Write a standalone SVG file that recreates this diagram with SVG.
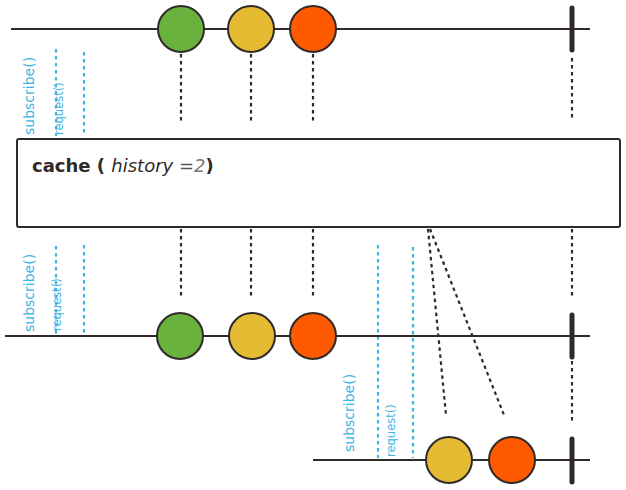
<svg xmlns="http://www.w3.org/2000/svg" width="626" height="490" viewBox="0 0 626 490">
<style>
.line{stroke:#2f2a28;stroke-width:2.2;fill:none}
.term{stroke:#2f2a28;stroke-width:5;stroke-linecap:round}
.dot{stroke:#2f2a28;stroke-width:2.2;stroke-dasharray:3.5 3.5;fill:none}
.blue{stroke:#3db5e3;stroke-width:2.2;stroke-dasharray:3.5 3.5;fill:none}
.m{stroke:#2f2a28;stroke-width:2}
.g{fill:#6ab23e}.y{fill:#e5bb33}.o{fill:#ff5a00}
.lbl{font-family:"DejaVu Sans",sans-serif;fill:#3db5e3}
.s{font-size:14px}.r{font-size:11.5px}
</style>
<rect width="626" height="490" fill="#fff"/>
<g id="connectors">
<line class="dot" x1="181" y1="54" x2="181" y2="122"/>
<line class="dot" x1="251" y1="54" x2="251" y2="122"/>
<line class="dot" x1="313" y1="54" x2="313" y2="122"/>
<line class="dot" x1="572" y1="58" x2="572" y2="121"/>
<line class="dot" x1="181" y1="229" x2="181" y2="296"/>
<line class="dot" x1="251" y1="229" x2="251" y2="296"/>
<line class="dot" x1="313" y1="229" x2="313" y2="296"/>
<line class="dot" x1="572" y1="229" x2="572" y2="296"/>
<line class="dot" x1="572" y1="361" x2="572" y2="421"/>
<line class="dot" x1="428" y1="229" x2="446" y2="415"/>
<line class="dot" x1="430" y1="229" x2="504" y2="415"/>
<line class="blue" x1="56" y1="49" x2="56" y2="136"/>
<line class="blue" x1="84" y1="52" x2="84" y2="136"/>
<line class="blue" x1="56" y1="246" x2="56" y2="334"/>
<line class="blue" x1="84" y1="245" x2="84" y2="334"/>
<line class="blue" x1="378" y1="245" x2="378" y2="458"/>
<line class="blue" x1="413" y1="247" x2="413" y2="458"/>
</g>
<g id="timeline-top">
<line class="line" x1="11" y1="29" x2="590" y2="29"/>
<line class="term" x1="572" y1="8" x2="572" y2="50"/>
</g>
<g id="timeline-mid">
<line class="line" x1="5" y1="336" x2="590" y2="336"/>
<line class="term" x1="572" y1="315" x2="572" y2="357"/>
</g>
<g id="timeline-bottom">
<line class="line" x1="313" y1="460" x2="590" y2="460"/>
<line class="term" x1="572" y1="439" x2="572" y2="482"/>
</g>
<g id="top-green"><circle class="g m" cx="181" cy="29" r="23"/></g>
<g id="top-yellow"><circle class="y m" cx="251" cy="29" r="23"/></g>
<g id="top-orange"><circle class="o m" cx="313" cy="29" r="23"/></g>
<g id="mid-green"><circle class="g m" cx="180" cy="336" r="23"/></g>
<g id="mid-yellow"><circle class="y m" cx="252" cy="336" r="23"/></g>
<g id="mid-orange"><circle class="o m" cx="313" cy="336" r="23"/></g>
<g id="bot-yellow"><circle class="y m" cx="449" cy="460" r="23"/></g>
<g id="bot-orange"><circle class="o m" cx="512" cy="460" r="23"/></g>
<g id="cache">
<rect x="17" y="139" width="603" height="88" rx="2" fill="#fff" stroke="#2f2a28" stroke-width="2"/>
<text x="32" y="172" font-family="'DejaVu Sans',sans-serif" font-size="18" fill="#2f2a28"><tspan font-weight="bold">cache ( </tspan><tspan font-style="italic">history </tspan><tspan font-style="italic" fill="#555">=</tspan><tspan font-style="italic" fill="#777">2</tspan><tspan font-weight="bold">)</tspan></text>
</g>
<g id="labels">
<text class="lbl s" transform="translate(34,135) rotate(-90)">subscribe()</text>
<text class="lbl r" transform="translate(63,135) rotate(-90)">request()</text>
<text class="lbl s" transform="translate(34,332) rotate(-90)">subscribe()</text>
<text class="lbl r" transform="translate(61,331) rotate(-90)">request()</text>
<text class="lbl s" transform="translate(354,452) rotate(-90)">subscribe()</text>
<text class="lbl r" transform="translate(395,457) rotate(-90)">request()</text>
</g>
</svg>
